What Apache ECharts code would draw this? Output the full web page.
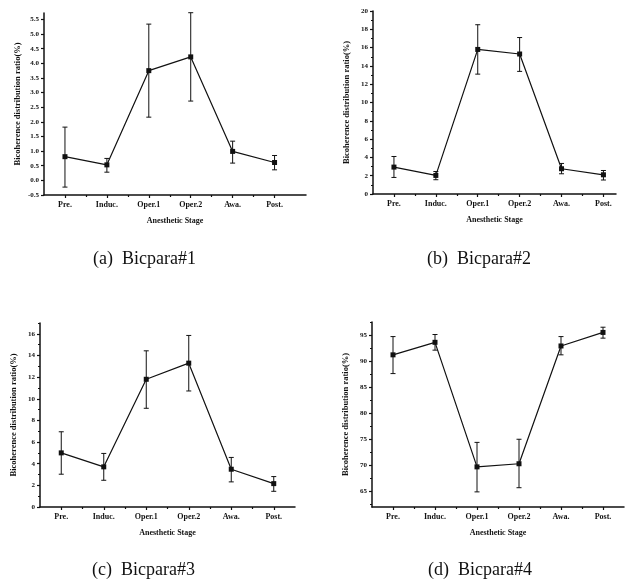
<!DOCTYPE html>
<html>
<head>
<meta charset="utf-8">
<script src="https://cdn.jsdelivr.net/npm/echarts@6/dist/echarts.min.js"></script>
<style>
  html, body { margin: 0; padding: 0; background: #fff; }
  #chart { width: 630px; height: 588px; }
</style>
</head>
<body>
<div id="chart"></div>
<script>
// categories and tick labels
const categories = ['Pre.', 'Induc.', 'Oper.1', 'Oper.2', 'Awa.', 'Post.'];
const yTicks1 = [-0.5, 0, 0.5, 1, 1.5, 2, 2.5, 3, 3.5, 4, 4.5, 5, 5.5];
const yTicks2 = [0, 2, 4, 6, 8, 10, 12, 14, 16, 18, 20];
const yTicks3 = [0, 2, 4, 6, 8, 10, 12, 14, 16];
const yTicks4 = [65, 70, 75, 80, 85, 90, 95];

// Bicpara#1
const mean1 = [0.81, 0.53, 3.75, 4.22, 0.99, 0.61];
const low1 = [-0.23, 0.28, 2.16, 2.71, 0.59, 0.36];
const high1 = [1.82, 0.75, 5.34, 5.73, 1.34, 0.85];
// Bicpara#2
const mean2 = [2.94, 2.03, 15.8, 15.3, 2.76, 2.1];
const low2 = [1.81, 1.56, 13.1, 13.4, 2.21, 1.53];
const high2 = [4.1, 2.46, 18.5, 17.1, 3.34, 2.57];
// Bicpara#3
const mean3 = [5.0, 3.71, 11.8, 13.29, 3.49, 2.16];
const low3 = [3.03, 2.47, 9.12, 10.72, 2.32, 1.45];
const high3 = [6.95, 4.95, 14.43, 15.85, 4.58, 2.81];
// Bicpara#4
const mean4 = [91.2, 93.6, 69.7, 70.3, 92.9, 95.5];
const low4 = [87.6, 92.1, 64.9, 65.7, 91.2, 94.4];
const high4 = [94.7, 95.1, 74.4, 75.0, 94.7, 96.5];

const captions = ['(a)  Bicpara#1', '(b)  Bicpara#2', '(c)  Bicpara#3', '(d)  Bicpara#4'];
const yTitle = 'Bicoherence distribution ratio(%)';
const xTitle = 'Anesthetic Stage';

const FONT = '"Liberation Serif", "DejaVu Serif", serif';

const panels = [
    {mean: mean1, low: low1, high: high1, ticks: yTicks1, minor: [],
     grid: {left: 44, right: 324, top: 13, bottom: 393}, xMax: 5.75, yMin: -0.5, yMax: 5.72, digits: 1},
    {mean: mean2, low: low2, high: high2, ticks: yTicks2, minor: [1, 3, 5, 7, 9, 11, 13, 15, 17, 19],
     grid: {left: 373, right: 14, top: 11, bottom: 394}, xMax: 5.3, yMin: 0, yMax: 20, digits: 0},
    {mean: mean3, low: low3, high: high3, ticks: yTicks3, minor: [1, 3, 5, 7, 9, 11, 13, 15, 17],
     grid: {left: 40, right: 335, top: 323, bottom: 81}, xMax: 5.5, yMin: 0, yMax: 17, digits: 0},
    {mean: mean4, low: low4, high: high4, ticks: yTicks4, minor: [62.5, 67.5, 72.5, 77.5, 82.5, 87.5, 92.5, 97.5],
     grid: {left: 372, right: 6, top: 322, bottom: 81}, xMax: 5.5, yMin: 62, yMax: 97.5, digits: 0}
];

const xMajor = [0, 1, 2, 3, 4, 5];
const xMinor = [0.5, 1.5, 2.5, 3.5, 4.5];

function errorBar(params, api) {
    const x = api.value(0);
    const top = api.coord([x, api.value(2)]);
    const bot = api.coord([x, api.value(1)]);
    const w = 2.5;
    const style = {stroke: '#111', lineWidth: 1};
    return {
        type: 'group',
        children: [
            {type: 'line', shape: {x1: top[0], y1: top[1], x2: bot[0], y2: bot[1]}, style: style},
            {type: 'line', shape: {x1: top[0] - w, y1: top[1], x2: top[0] + w, y2: top[1]}, style: style},
            {type: 'line', shape: {x1: bot[0] - w, y1: bot[1], x2: bot[0] + w, y2: bot[1]}, style: style}
        ]
    };
}

const grid = [], xAxis = [], yAxis = [], series = [];
const axisLine = {onZero: false, lineStyle: {color: '#111', width: 1.5}};

panels.forEach((p, i) => {
    grid.push(p.grid);
    const base = {
        gridIndex: i, type: 'value', position: 'bottom', min: -0.5, max: p.xMax,
        splitLine: {show: false}, axisLine: axisLine
    };
    xAxis.push(Object.assign({}, base, {
        name: xTitle, nameLocation: 'middle', nameGap: 22,
        nameTextStyle: {fontFamily: FONT, fontWeight: 'bold', fontSize: 8, color: '#111'},
        axisTick: {customValues: xMajor, length: 3, lineStyle: {color: '#111', width: 1.2}},
        axisLabel: {customValues: xMajor, formatter: v => categories[Math.round(v)],
            fontFamily: FONT, fontWeight: 'bold', fontSize: 8, color: '#111', margin: 6}
    }));
    xAxis.push(Object.assign({}, base, {
        axisLine: {show: false, onZero: false},
        axisTick: {customValues: xMinor, length: 2, lineStyle: {color: '#111', width: 1.2}},
        axisLabel: {show: false}
    }));
    const ybase = {
        gridIndex: i, type: 'value', position: 'left', min: p.yMin, max: p.yMax,
        splitLine: {show: false}, axisLine: axisLine
    };
    yAxis.push(Object.assign({}, ybase, {
        name: yTitle, nameLocation: 'middle', nameGap: 22,
        nameTextStyle: {fontFamily: FONT, fontWeight: 'bold', fontSize: 8.5, color: '#111'},
        axisTick: {customValues: p.ticks, length: 3, lineStyle: {color: '#111', width: 1.2}},
        axisLabel: {customValues: p.ticks, formatter: v => v.toFixed(p.digits),
            fontFamily: FONT, fontWeight: 'bold', fontSize: 7, color: '#111', margin: 5}
    }));
    yAxis.push(Object.assign({}, ybase, {
        axisLine: {show: false, onZero: false},
        axisTick: {show: p.minor.length > 0, customValues: p.minor, length: 2, lineStyle: {color: '#111', width: 1}},
        axisLabel: {show: false}
    }));

    series.push({
        type: 'custom',
        xAxisIndex: i * 2, yAxisIndex: i * 2,
        renderItem: errorBar,
        encode: {x: 0, y: [1, 2]},
        data: p.mean.map((m, k) => [k, p.low[k], p.high[k]]),
        z: 3
    });
    series.push({
        type: 'line',
        xAxisIndex: i * 2, yAxisIndex: i * 2,
        data: p.mean.map((m, k) => [k, m]),
        symbol: 'rect', symbolSize: 5,
        itemStyle: {color: '#111'},
        lineStyle: {color: '#111', width: 1.2},
        z: 4
    });
});

const captionPos = [[93, 260], [427, 260], [92, 571], [428, 571]];
const graphic = captions.map((t, i) => ({
    type: 'text',
    left: captionPos[i][0], top: captionPos[i][1] - 10,
    style: {text: t, font: '18px ' + FONT, fill: '#111'}
}));

const chart = echarts.init(document.getElementById('chart'));
chart.setOption({
    animation: false,
    backgroundColor: '#fff',
    grid: grid,
    xAxis: xAxis,
    yAxis: yAxis,
    series: series,
    graphic: graphic
});
</script>
</body>
</html>
